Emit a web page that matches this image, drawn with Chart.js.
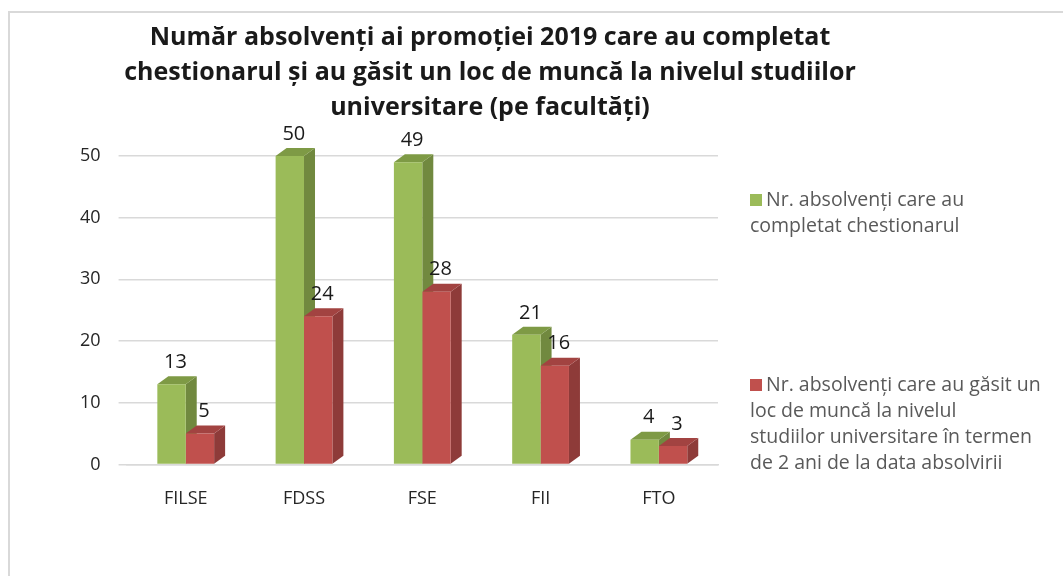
<!DOCTYPE html>
<html>
<head>
<meta charset="utf-8">
<script src="https://cdn.jsdelivr.net/npm/chart.js@4"></script>
<style>
  body { margin: 0; background: #fff; font-family: "Open Sans", "Noto Sans", sans-serif; overflow: hidden; }
  #wrap { position: relative; width: 1063px; height: 576px; overflow: hidden; }
  #frame { position: absolute; left: 8px; top: 11px; width: 1100px; height: 620px; border: 2px solid #d9d9d9; }
  #c { position: absolute; left: 0; top: 0; }
  #title {
    position: absolute; left: 90px; top: 18px; width: 800px;
    text-align: center; font-weight: bold; font-size: 25px; line-height: 35px; color: #1a1a1a;
  }
  .leg { position: absolute; left: 750px; font-size: 19.5px; line-height: 26px; color: #595959; white-space: nowrap; }
  .leg span.sw { display: inline-block; width: 12px; height: 12px; margin-right: 4px; }
</style>
</head>
<body>
<div id="wrap">
  <div id="frame"></div>
  <canvas id="c" width="1063" height="576"></canvas>
  <div id="title">Număr absolvenți ai promoției 2019 care au completat<br>chestionarul și au găsit un loc de muncă la nivelul studiilor<br>universitare (pe facultăți)</div>
  <div class="leg" style="top:186px"><span class="sw" style="background:#9BBB59"></span>Nr. absolvenți care au<br>completat chestionarul</div>
  <div class="leg" style="top:371px"><span class="sw" style="background:#C0504D"></span>Nr. absolvenți care au găsit un<br>loc de muncă la nivelul<br>studiilor universitare în termen<br>de 2 ani de la data absolvirii</div>
</div>
<script>
const faculties = ['FILSE', 'FDSS', 'FSE', 'FII', 'FTO'];
const completed = [13, 50, 49, 21, 4];
const employed = [5, 24, 28, 16, 3];
const yTicks = [0, 10, 20, 30, 40, 50];

const sideColors = ['#71893F', '#8E3B39'];
const topColors = ['#7E9A45', '#A24341'];

// fake 3D: side + top faces drawn behind the flat fronts
const depthPlugin = {
    id: 'depth',
    beforeDatasetsDraw(chart) {
        const ctx = chart.ctx;
        const dx = 11, dy = 8;
        chart.data.datasets.forEach((ds, i) => {
            chart.getDatasetMeta(i).data.forEach(bar => {
                const l = bar.x - bar.width / 2, r = bar.x + bar.width / 2;
                ctx.fillStyle = sideColors[i];
                ctx.beginPath();
                ctx.moveTo(r, bar.y);
                ctx.lineTo(r + dx, bar.y - dy);
                ctx.lineTo(r + dx, bar.base - dy);
                ctx.lineTo(r, bar.base);
                ctx.fill();
                ctx.fillStyle = topColors[i];
                ctx.beginPath();
                ctx.moveTo(l, bar.y);
                ctx.lineTo(l + dx, bar.y - dy);
                ctx.lineTo(r + dx, bar.y - dy);
                ctx.lineTo(r, bar.y);
                ctx.fill();
            });
        });
    }
};

const labelPlugin = {
    id: 'valueLabels',
    afterDatasetsDraw(chart) {
        const ctx = chart.ctx;
        ctx.font = '20px "Open Sans", "Noto Sans", sans-serif';
        ctx.fillStyle = '#1a1a1a';
        ctx.textAlign = 'center';
        ctx.textBaseline = 'bottom';
        chart.data.datasets.forEach((ds, i) => {
            chart.getDatasetMeta(i).data.forEach((bar, j) => {
                ctx.fillText(ds.data[j], bar.x + 4, bar.y - 12);
            });
        });
    }
};

new Chart(document.getElementById('c'), {
    type: 'bar',
    data: {
        labels: faculties,
        datasets: [
            { label: 'Nr. absolvenți care au completat chestionarul', data: completed, backgroundColor: '#9BBB59' },
            { label: 'Nr. absolvenți care au găsit un loc de muncă la nivelul studiilor universitare în termen de 2 ani de la data absolvirii', data: employed, backgroundColor: '#C0504D' }
        ]
    },
    options: {
        responsive: false,
        animation: false,
        layout: { padding: { top: 156, right: 345, left: 62, bottom: 50 } },
        datasets: { bar: { categoryPercentage: 0.48, barPercentage: 1.0 } },
        plugins: { legend: { display: false }, tooltip: { enabled: false } },
        scales: {
            x: {
                grid: { display: false },
                border: { color: '#d9d9d9', width: 1.5 },
                ticks: { color: '#262626', font: { size: 18, family: '"Open Sans", "Noto Sans", sans-serif' }, padding: 16 }
            },
            y: {
                min: 0, max: 50,
                afterBuildTicks(axis) { axis.ticks = yTicks.map(v => ({ value: v })); },
                grid: { color: '#d9d9d9', lineWidth: 1.5 },
                border: { display: false },
                ticks: { color: '#262626', font: { size: 18, family: '"Open Sans", "Noto Sans", sans-serif' }, padding: 18 }
            }
        }
    },
    plugins: [depthPlugin, labelPlugin]
});
</script>
</body>
</html>
